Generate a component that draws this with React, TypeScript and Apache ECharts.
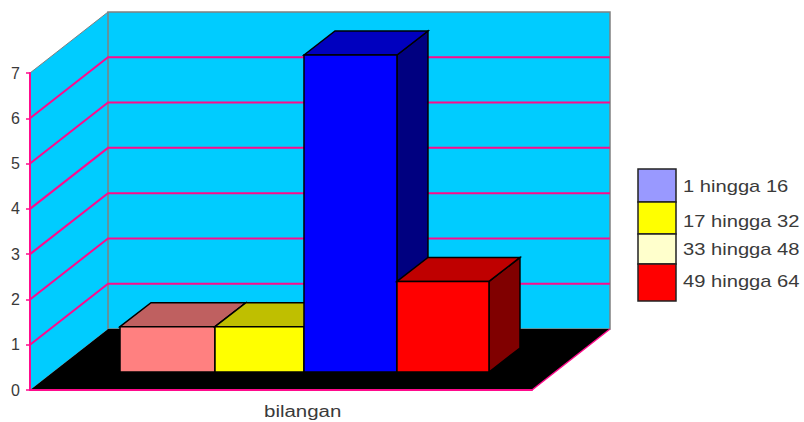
import React, { useEffect, useRef } from "react";
import * as echarts from "echarts";

const categories = ["bilangan"];
const rangeNames = ["1 hingga 16", "17 hingga 32", "33 hingga 48", "49 hingga 64"];
const counts = [1, 1, 7, 2];
const yTicks = [0, 1, 2, 3, 4, 5, 6, 7];

const barFront = ["#FF8080", "#FFFF00", "#0000FF", "#FF0000"];
const barTop = ["#BF6060", "#BFBF00", "#0000BF", "#BF0000"];
const barSide = ["#804040", "#808000", "#000080", "#800000"];
const legendColors = ["#9999FF", "#FFFF00", "#FFFFCC", "#FF0000"];

const GRID = { left: 30, top: 73, width: 502, height: 317 };
const WALL = { dx: 78, dy: 61 };
// Bar edges are given as a share of the category band, measured from its centre.
const BAR_EDGE_SHARES = [-0.3207, -0.1315, 0.0458, 0.231, 0.4143];
const BAR = { dx: 31, dy: 24, shiftY: 18 };
const MAGENTA = "#FF0A8C";
const GREY = "#808080";
const TEXT = "#3A3A3A";
const FONT = "'Liberation Sans', Arial, sans-serif";

const LEGEND_X = 638;
const LEGEND_W = 38;
const LEGEND_EDGES = [169, 202, 234, 264, 301];
const LEGEND_TEXT_Y = [187, 222, 250, 282];
const LEGEND_TEXT_X = 683;

function renderFrame(params: any, api: any) {
  const v = api.value(1) as number;
  const [cx, y] = api.coord([0, v]);
  const band = api.size([1, 0])[0];
  const x0 = cx - band / 2;
  const x1 = cx + band / 2;
  const { dx, dy } = WALL;
  const children: any[] = [];
  if (v === 0) {
    const [, yTop] = api.coord([0, 7]);
    children.push({
      type: "polygon",
      shape: { points: [[x0, yTop], [x0 + dx, yTop - dy], [x0 + dx, y - dy], [x0, y]] },
      style: { fill: "#00CCFF", stroke: "none" },
    });
    children.push({
      type: "rect",
      shape: { x: x0 + dx, y: yTop - dy, width: x1 - x0, height: y - yTop },
      style: { fill: "#00CCFF", stroke: GREY, lineWidth: 1.5 },
    });
    children.push({
      type: "polygon",
      shape: { points: [[x0, y], [x1, y], [x1 + dx, y - dy], [x0 + dx, y - dy]] },
      style: { fill: "#000000", stroke: "none" },
    });
    children.push({
      type: "line",
      shape: { x1: x1, y1: y, x2: x1 + dx, y2: y - dy },
      style: { stroke: MAGENTA, lineWidth: 1.5 },
    });
    children.push({
      type: "line",
      shape: { x1: x0, y1: yTop, x2: x0 + dx, y2: yTop - dy },
      style: { stroke: GREY, lineWidth: 1 },
    });
  } else if (v < 7) {
    children.push({
      type: "polyline",
      shape: { points: [[x0, y], [x0 + dx, y - dy], [x1 + dx, y - dy]] },
      style: { stroke: MAGENTA, lineWidth: 2, fill: "none" },
    });
  }
  return { type: "group", children };
}

function renderBar(index: number) {
  return (params: any, api: any) => {
    const [cx, yv] = api.coord([api.value(0), api.value(1)]);
    const [, y0] = api.coord([api.value(0), 0]);
    const band = api.size([1, 0])[0];
    const x = cx + band * BAR_EDGE_SHARES[index];
    const w = band * (BAR_EDGE_SHARES[index + 1] - BAR_EDGE_SHARES[index]);
    const top = yv - BAR.shiftY;
    const bottom = y0 - BAR.shiftY;
    const { dx, dy } = BAR;
    const line = { stroke: "#000000", lineWidth: 1.5 };
    return {
      type: "group",
      children: [
        {
          type: "polygon",
          shape: { points: [[x + w, top], [x + w + dx, top - dy], [x + w + dx, bottom - dy], [x + w, bottom]] },
          style: { fill: barSide[index], ...line },
        },
        {
          type: "polygon",
          shape: { points: [[x, top], [x + dx, top - dy], [x + w + dx, top - dy], [x + w, top]] },
          style: { fill: barTop[index], ...line },
        },
        {
          type: "rect",
          shape: { x, y: top, width: w, height: bottom - top },
          style: { fill: barFront[index], ...line },
        },
      ],
    };
  };
}

export default function App() {
  const ref = useRef<HTMLDivElement>(null);
  useEffect(() => {
    if (!ref.current) return;
    const chart = echarts.init(ref.current, undefined, { renderer: "svg" });
    const graphics: any[] = [];
    rangeNames.forEach((name, i) => {
      graphics.push({
        type: "rect",
        shape: {
          x: LEGEND_X,
          y: LEGEND_EDGES[i],
          width: LEGEND_W,
          height: LEGEND_EDGES[i + 1] - LEGEND_EDGES[i],
        },
        style: { fill: legendColors[i], stroke: "#222222", lineWidth: 1.5 },
      });
      graphics.push({
        type: "text",
        x: LEGEND_TEXT_X,
        y: LEGEND_TEXT_Y[i],
        scaleX: 1.26,
        style: {
          text: name,
          fill: TEXT,
          font: `16px ${FONT}`,
          textAlign: "left",
          textVerticalAlign: "middle",
        },
      });
    });
    graphics.push({
      type: "text",
      x: 264,
      y: 411,
      scaleX: 1.28,
      style: {
        text: categories[0],
        fill: TEXT,
        font: `16px ${FONT}`,
        textAlign: "left",
        textVerticalAlign: "middle",
      },
    });
    chart.setOption({
      animation: false,
      backgroundColor: "#FFFFFF",
      grid: { ...GRID, containLabel: false },
      xAxis: {
        type: "category",
        data: categories,
        z: 5,
        axisLine: { show: true, lineStyle: { color: MAGENTA, width: 2 } },
        axisTick: { show: false },
        splitLine: { show: false },
        axisLabel: { show: false },
      },
      yAxis: {
        type: "value",
        min: 0,
        max: 7,
        interval: 1,
        z: 5,
        axisLine: { show: true, lineStyle: { color: MAGENTA, width: 2 } },
        axisTick: { show: true, length: 4, lineStyle: { color: MAGENTA, width: 1.5 } },
        splitLine: { show: false },
        axisLabel: {
          color: TEXT,
          fontFamily: FONT,
          fontSize: 16,
          margin: 10,
        },
      },
      series: [
        {
          type: "custom",
          name: "frame",
          coordinateSystem: "cartesian2d",
          clip: false,
          silent: true,
          z: 1,
          encode: { x: 0, y: 1 },
          data: yTicks.map((t) => [0, t]),
          renderItem: renderFrame,
        },
        ...rangeNames.map((name, i) => ({
          type: "custom",
          name,
          coordinateSystem: "cartesian2d",
          clip: false,
          silent: true,
          z: 2 + i,
          encode: { x: 0, y: 1 },
          data: [[0, counts[i]]],
          renderItem: renderBar(i),
        })),
      ],
      graphic: { elements: graphics },
    });
    return () => chart.dispose();
  }, []);
  return (
    <div
      ref={ref}
      style={{ position: "absolute", left: 0, top: 0, width: 804, height: 422 }}
    />
  );
}
